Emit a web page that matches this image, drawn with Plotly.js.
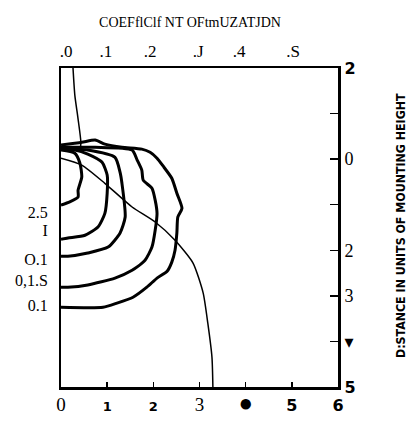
<!DOCTYPE html>
<html><head><meta charset="utf-8">
<script src="https://cdn.plot.ly/plotly-3.0.1.min.js"></script>
<style>html,body{margin:0;padding:0;background:#fff}#chart{width:409px;height:428px}</style>
</head><body><div id="chart"></div>
<script>
// ---- text ----
const chartTitle = "COEFflClf NT OFtmUZATJDN";
const rightTitle = "D:STANCE IN UNITS OF MOUNTING HEIGHT";

// ---- axes ----
const bottomTickVals = [0, 1, 2, 3, 4, 5, 6];
const bottomTickText = ["0", "1", "2", "3", "\u25CF", "5", "6"];
const topTickVals = [0.11, 0.97, 1.93, 2.97, 3.86, 5.03];
const topTickText = [".0", ".1", ".2", ".J", ".4", ".S"];
const rightTickVals = [-2, -1, 0, 1, 2, 3, 4, 5];
const rightTickText = ["2", "", "0", "", "2", "3", "\u25BE", "5"];
const leftTickVals = [1.16, 1.56, 2.19, 2.65, 3.22];
const leftTickText = ["2.5", "I", "O.1", "0,1.S", "0.1"];

// ---- curves (x: horizontal distance, y: distance downward) ----
const thinTopX = [0.26, 0.30, 0.37, 0.43, 0.41, 0.02];
const thinTopY = [-2.00, -1.40, -0.88, -0.37, -0.24, -0.20];

const thinDiagX = [0.00, 0.45, 0.95, 1.54, 2.04, 2.47, 2.86, 3.08, 3.18, 3.27, 3.29];
const thinDiagY = [-0.02, 0.13, 0.53, 1.05, 1.38, 1.78, 2.28, 2.94, 3.60, 4.35, 5.00];

const c1X = [0.00, 0.30, 0.41, 0.45, 0.37, 0.37, 0.19, 0.00];
const c1Y = [-0.20, -0.13, 0.09, 0.39, 0.68, 0.83, 0.94, 1.01];

const c2X = [0.00, 0.30, 0.58, 0.89, 1.00, 1.00, 0.95, 0.80, 0.52, 0.15, 0.00];
const c2Y = [-0.22, -0.20, -0.11, 0.07, 0.35, 0.75, 1.19, 1.49, 1.67, 1.73, 1.76];

const c3X = [0.00, 0.58, 1.17, 1.28, 1.32, 1.39, 1.28, 1.02, 0.58, 0.15, 0.00];
const c3Y = [-0.24, -0.20, -0.04, 0.29, 0.53, 1.27, 1.62, 1.93, 2.06, 2.13, 2.13];

const c4X = [0.00, 0.74, 1.54, 1.65, 1.75, 1.78, 1.97, 2.04, 2.08, 2.04, 1.97, 1.82, 1.54, 1.17, 0.58, 0.15, 0.00];
const c4Y = [-0.26, -0.26, -0.20, 0.02, 0.24, 0.46, 0.64, 0.90, 1.19, 1.56, 1.93, 2.22, 2.44, 2.61, 2.76, 2.81, 2.81];

const c5X = [0.00, 0.45, 0.74, 0.95, 1.32, 1.75, 1.93, 2.08, 2.21, 2.40, 2.51, 2.62, 2.53, 2.51, 2.47, 2.40, 2.30, 2.08, 1.86, 1.56, 1.21, 0.91, 0.00];
const c5Y = [-0.31, -0.37, -0.42, -0.33, -0.26, -0.22, -0.15, -0.02, 0.15, 0.42, 0.75, 1.08, 1.27, 1.62, 2.00, 2.26, 2.46, 2.61, 2.81, 3.03, 3.16, 3.25, 3.25];

const serif = "Liberation Serif, Times New Roman, serif";
const sansB = (t, s) => '<span style="font-family:DejaVu Sans;font-weight:bold;font-size:' + s + 'px">' + t + '</span>';
const bottomStyled = bottomTickText.map((t, i) => (i === 1 || i === 2) ? sansB(t, 13) : (i === 5 || i === 6) ? sansB(t, 16) : (i === 4 ? '<span style="font-size:24px">' + t + '</span>' : t));
const rightStyled = rightTickText.map((t, i) => (i === 0 || i === 7) ? sansB(t, 16) : (i === 6 ? sansB(t, 18) : t));

function line(x, y, w) {
  return {x: x, y: y, type: 'scatter', mode: 'lines', xaxis: 'x', yaxis: 'y',
    line: {color: '#000', width: w, shape: 'spline', smoothing: 0.6}, hoverinfo: 'skip', showlegend: false};
}
const traces = [
  line(thinTopX, thinTopY, 1.5),
  line(thinDiagX, thinDiagY, 1.5),
  line(c1X, c1Y, 3), line(c2X, c2Y, 3), line(c3X, c3Y, 3), line(c4X, c4Y, 3), line(c5X, c5Y, 3),
  {x: [0], y: [0], xaxis: 'x2', yaxis: 'y2', type: 'scatter', mode: 'markers', marker: {opacity: 0}, showlegend: false, hoverinfo: 'skip'}
];

const layout = {
  width: 409, height: 428,
  margin: {l: 61, r: 71, t: 68, b: 41},
  paper_bgcolor: '#fff', plot_bgcolor: '#fff',
  showlegend: false,
  font: {family: serif, color: '#000', size: 14},
  title: {text: chartTitle, font: {family: serif, size: 14, color: '#000'},
    x: 190 / 409, xref: 'container', xanchor: 'center', y: 1 - 22 / 428, yref: 'container', yanchor: 'middle'},
  xaxis: {range: [0, 6], showgrid: false, zeroline: false, showline: true, linecolor: '#000', linewidth: 3,
    tickmode: 'array', tickvals: bottomTickVals, ticktext: bottomStyled, ticks: 'inside', ticklen: 5, tickwidth: 1.5, tickcolor: '#000',
    tickfont: {family: serif, size: 19, color: '#000'}, ticklabelstandoff: -2},
  xaxis2: {range: [0, 6], overlaying: 'x', side: 'top', showgrid: false, zeroline: false, showline: true, linecolor: '#000', linewidth: 2.5,
    tickmode: 'array', tickvals: topTickVals, ticktext: topTickText, ticks: '',
    tickfont: {family: serif, size: 17, color: '#000'}, ticklabelstandoff: 2},
  yaxis: {range: [5, -2], showgrid: false, zeroline: false, showline: true, linecolor: '#000', linewidth: 2,
    tickmode: 'array', tickvals: leftTickVals, ticktext: leftTickText, ticks: '',
    tickfont: {family: serif, size: 16, color: '#000'}, ticklabelstandoff: 8},
  yaxis2: {range: [5, -2], overlaying: 'y', side: 'right', showgrid: false, zeroline: false, showline: true, linecolor: '#000', linewidth: 3,
    tickmode: 'array', tickvals: rightTickVals, ticktext: rightStyled, ticks: 'inside', ticklen: 8, tickwidth: 1.5, tickcolor: '#000',
    tickfont: {family: serif, size: 18, color: '#000'}, ticklabelstandoff: 0},
  annotations: [{
    text: rightTitle, xref: 'paper', yref: 'paper', x: (401 - 61) / 277, y: (387 - 226) / 319,
    xanchor: 'center', yanchor: 'middle', textangle: -90, showarrow: false,
    font: {family: 'DejaVu Sans Condensed, DejaVu Sans, sans-serif', size: 12.3, color: '#000', weight: 'bold'}
  }]
};
Plotly.newPlot('chart', traces, layout, {staticPlot: true, displayModeBar: false});
</script>
</body></html>
